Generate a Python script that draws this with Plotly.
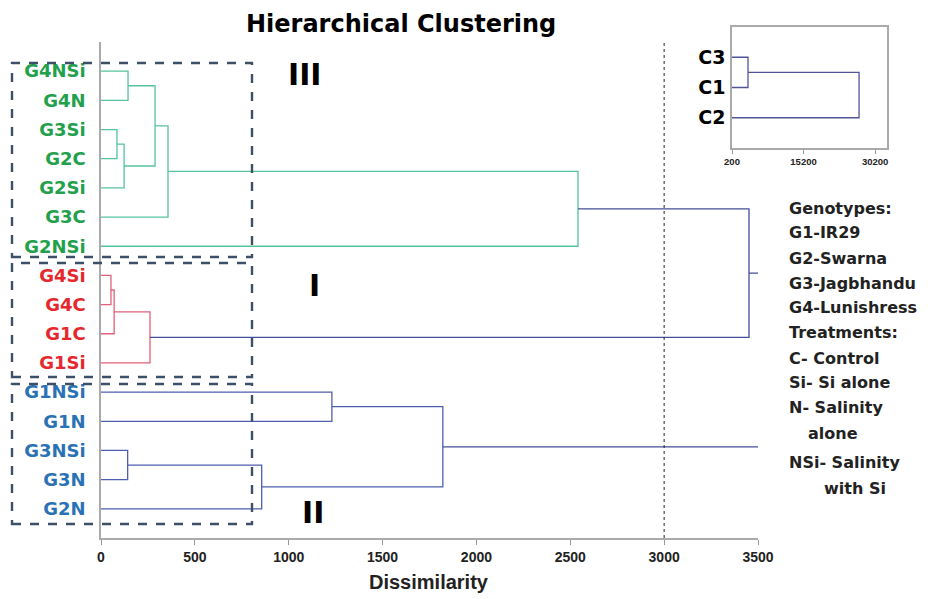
import plotly.graph_objects as go

# ---------------- data ----------------
leaf_labels = ["G4NSi", "G4N", "G3Si", "G2C", "G2Si", "G3C", "G2NSi",
               "G4Si", "G4C", "G1C", "G1Si",
               "G1NSi", "G1N", "G3NSi", "G3N", "G2N"]
leaf_groups = ["III"] * 7 + ["I"] * 4 + ["II"] * 5

# merge k (1-based) creates node "mk"
merge_left = ["G4NSi", "G3Si", "m2", "m1", "m4", "m5",
              "G4Si", "m7", "m8",
              "G1NSi", "G3NSi", "m11", "m10",
              "m6", "m14"]
merge_right = ["G4N", "G2C", "G2Si", "m3", "G3C", "G2NSi",
               "G4C", "G1C", "G1Si",
               "G1N", "G3N", "G2N", "m12",
               "m9", "m13"]
merge_height = [144, 85, 123, 288, 357, 2541,
                53, 70, 261,
                1230, 142, 856, 1821,
                3452, 3511]
merge_group = ["III"] * 6 + ["I"] * 3 + ["II"] * 4 + ["root", "root"]

x_ticks = [0, 500, 1000, 1500, 2000, 2500, 3000, 3500]
cut_level = 3000

inset_labels = ["C3", "C1", "C2"]
inset_left = ["C3", "m1"]
inset_right = ["C1", "C2"]
inset_height = [3556, 26840]
inset_ticks = [200, 15200, 30200]

legend_lines = ["Genotypes:", "G1-IR29", "G2-Swarna", "G3-Jagbhandu", "G4-Lunishress",
                "Treatments:", "C- Control", "Si- Si alone", "N- Salinity", "alone",
                "NSi- Salinity", "with Si"]

# ---------------- styles ----------------
OFF = 8                      # page body margin in the browser
W, H = 928 - OFF, 599 - OFF  # figure size
link_color = {"III": "#55c39b", "I": "#e2607a", "II": "#4f5fb0", "root": "#434f9a"}
label_color = {"III": "#22a04b", "I": "#e5282e", "II": "#2b72b5"}
BOLD_WIDE = "DejaVu Sans"
BOLD_ARIAL = "Liberation Sans, Arial"


def px_x(p):
    return (p - OFF) / W


def px_y(p):
    return 1 - (p - OFF) / H


def dendro(labels, lefts, rights, heights):
    n = len(labels)
    pos = {lab: n - i for i, lab in enumerate(labels)}
    hgt = {lab: 0 for lab in labels}
    segs = []
    for k, (a, b, h) in enumerate(zip(lefts, rights, heights), start=1):
        segs.append(([hgt[a], h, h, hgt[b]], [pos[a], pos[a], pos[b], pos[b]]))
        pos[f"m{k}"] = (pos[a] + pos[b]) / 2
        hgt[f"m{k}"] = h
    return segs, pos


fig = go.Figure()

segs, pos = dendro(leaf_labels, merge_left, merge_right, merge_height)
for grp in ["III", "I", "II", "root"]:
    xs, ys = [], []
    for (sx, sy), g in zip(segs, merge_group):
        if g == grp:
            xs += sx + [None]
            ys += sy + [None]
    fig.add_trace(go.Scatter(x=xs, y=ys, mode="lines", showlegend=False,
                             line=dict(color=link_color[grp], width=1.3),
                             hoverinfo="skip", xaxis="x", yaxis="y"))

isegs, ipos = dendro(inset_labels, inset_left, inset_right, inset_height)
xs, ys = [], []
for sx, sy in isegs:
    xs += sx + [None]
    ys += sy + [None]
fig.add_trace(go.Scatter(x=xs, y=ys, mode="lines", showlegend=False,
                         line=dict(color="#50559a", width=1.3),
                         hoverinfo="skip", xaxis="x2", yaxis="y2"))

ticktext = [f"<span style='color:{label_color[g]}'>{lab}</span>"
            for lab, g in zip(leaf_labels, leaf_groups)]

fig.update_layout(
    width=W, height=H,
    margin=dict(l=0, r=0, t=0, b=0),
    paper_bgcolor="white", plot_bgcolor="white",
    showlegend=False,
    xaxis=dict(domain=[px_x(101), px_x(758)], range=[0, 3500], tickvals=x_ticks,
               ticktext=[str(v) for v in x_ticks],
               ticks="outside", ticklen=5, tickcolor="#999999", tickwidth=1,
               showline=True, linecolor="#aaaaaa", linewidth=1.5,
               showgrid=False, zeroline=False, automargin=False,
               tickfont=dict(family=BOLD_ARIAL, size=14, color="#222222", weight="bold"),
               anchor="y"),
    yaxis=dict(domain=[px_y(538), px_y(42)], range=[0, 17],
               tickvals=[pos[l] for l in leaf_labels], ticktext=ticktext,
               ticks="", ticklabelstandoff=10,
               showline=True, linecolor="#aaaaaa", linewidth=1.5,
               showgrid=False, zeroline=False, automargin=False,
               tickfont=dict(family=BOLD_WIDE, size=18, weight="bold"),
               anchor="x"),
    xaxis2=dict(domain=[px_x(732), px_x(887)], range=[200, 32700], tickvals=inset_ticks,
                ticktext=[str(v) for v in inset_ticks],
                ticks="outside", ticklen=4, tickcolor="#999999",
                showline=True, mirror=True, linecolor="#aaaaaa", linewidth=1.5,
                showgrid=False, zeroline=False, automargin=False,
                tickfont=dict(family=BOLD_ARIAL, size=9.5, color="#222222", weight="bold"),
                anchor="y2"),
    yaxis2=dict(domain=[px_y(148), px_y(27)], range=[0, 4],
                tickvals=[ipos[l] for l in inset_labels], ticktext=inset_labels,
                ticks="", ticklabelstandoff=1,
                showline=True, mirror=True, linecolor="#aaaaaa", linewidth=1.5,
                showgrid=False, zeroline=False, automargin=False,
                tickfont=dict(family=BOLD_WIDE, size=19, color="black", weight="bold"),
                anchor="x2"),
)

# cut-off line
fig.add_shape(type="line", xref="x", yref="y", x0=cut_level, x1=cut_level, y0=0, y1=17,
              line=dict(color="#222222", width=1, dash="dot"))

# dashed cluster boxes
for top, bot in [(63, 257), (263, 377), (384, 524)]:
    fig.add_shape(type="rect", xref="paper", yref="paper",
                  x0=px_x(12), x1=px_x(252), y0=px_y(bot), y1=px_y(top),
                  line=dict(color="#3d5068", width=2.4, dash="dash"),
                  fillcolor="rgba(0,0,0,0)")

annots = []
annots.append(dict(text="<b>Hierarchical Clustering</b>", x=px_x(401), y=1.0,
                   yanchor="top", font=dict(family=BOLD_WIDE, size=24, color="black")))
annots.append(dict(text="<b>Dissimilarity</b>", x=px_x(429), y=px_y(582),
                   font=dict(family=BOLD_ARIAL, size=20, color="#222222")))
for txt, cx, cy in [("III", 305, 75), ("I", 314, 285), ("II", 313, 512)]:
    annots.append(dict(text=f"<b>{txt}</b>", x=px_x(cx), y=px_y(cy),
                       font=dict(family=BOLD_WIDE, size=30, color="black")))

legend_y = [208, 233, 258, 283, 307, 333, 358, 382, 407, 433, 462, 488]
legend_x = [787] * 9 + [806] + [787, 822]
for txt, lx, ly in zip(legend_lines, legend_x, legend_y):
    annots.append(dict(text=f"<b>{txt}</b>", x=px_x(lx), y=px_y(ly), xanchor="left",
                       font=dict(family=BOLD_WIDE, size=16, color="#222222")))

for a in annots:
    a.setdefault("xanchor", "center")
    a.setdefault("yanchor", "middle")
    a.update(xref="paper", yref="paper", showarrow=False)
    fig.add_annotation(**a)

fig.write_html("out.html")
